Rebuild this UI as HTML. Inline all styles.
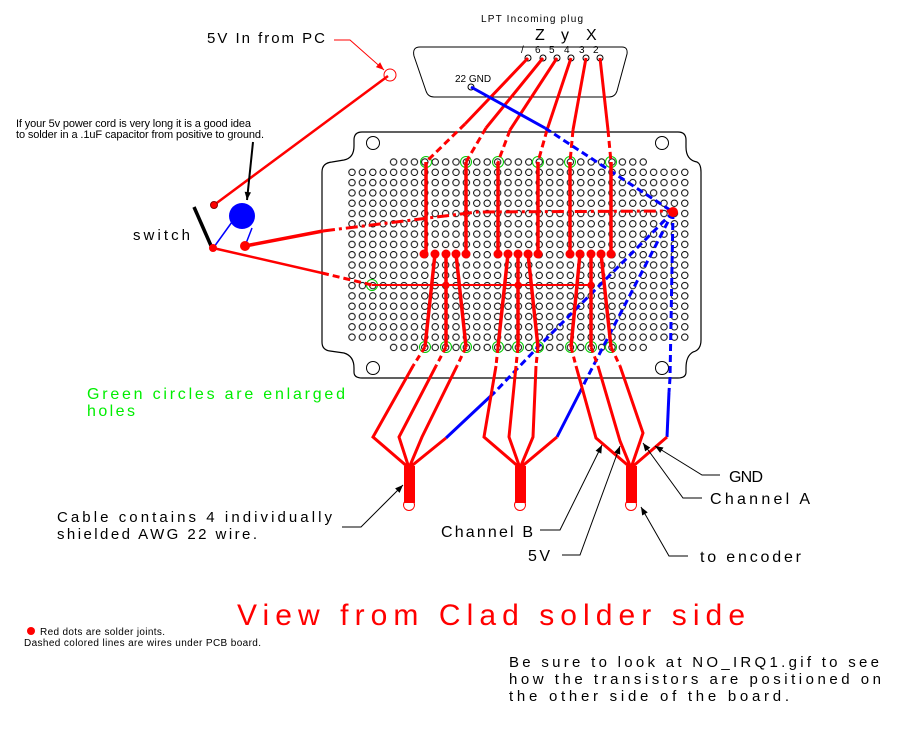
<!DOCTYPE html>
<html><head><meta charset="utf-8"><style>
html,body{margin:0;padding:0;background:#fff}
svg{display:block}
text{font-family:"Liberation Sans",sans-serif}
</style></head><body>
<svg width="914" height="736" viewBox="0 0 914 736" xmlns="http://www.w3.org/2000/svg">
<defs>
<pattern id="h" patternUnits="userSpaceOnUse" x="346.8" y="156.85" width="10.4" height="10.3">
<circle cx="5.2" cy="5.15" r="3.2" fill="none" stroke="#000" stroke-width="1"/>
</pattern>
<marker id="ab" viewBox="0 0 10 10" refX="10" refY="5" markerWidth="14" markerHeight="8" orient="auto" markerUnits="userSpaceOnUse"><path d="M0,1 L10,5 L0,9 z" fill="#000"/></marker>
<marker id="ar" viewBox="0 0 10 10" refX="10" refY="5" markerWidth="14" markerHeight="8" orient="auto" markerUnits="userSpaceOnUse"><path d="M0,1 L10,5 L0,9 z" fill="#f00"/></marker>
</defs>

<!-- board outline -->
<path d="M362 132 L678 132 Q686 132 686 140 L686 147 Q686 160 697 162 Q701 164 701 172 L701 340 Q701 350 693 352 Q686 356 686 368 L686 372 Q686 378 678 378 L362 378 Q354 378 354 372 L354 368 Q354 356 344 353 L330 351 Q322 350 322 342 L322 172 Q322 163 332 162 L344 160 Q354 158 354 146 L354 140 Q354 132 362 132 Z" fill="none" stroke="#000" stroke-width="1.2"/>
<circle cx="373" cy="143" r="6.5" fill="none" stroke="#000"/>
<circle cx="662" cy="143" r="6.5" fill="none" stroke="#000"/>
<circle cx="373" cy="368" r="6.5" fill="none" stroke="#000"/>
<circle cx="662" cy="368" r="6.5" fill="none" stroke="#000"/>

<!-- holes -->
<rect x="388.4" y="156.85" width="260" height="10.3" fill="url(#h)"/>
<rect x="346.8" y="167.15" width="343.2" height="175.1" fill="url(#h)"/>
<rect x="388.4" y="342.25" width="260" height="10.3" fill="url(#h)"/>

<!-- green enlarged holes -->
<g fill="none" stroke="#0c0" stroke-width="1">
<circle cx="426" cy="162" r="5.5"/><circle cx="466" cy="162" r="5.5"/><circle cx="498" cy="162" r="5.5"/><circle cx="538" cy="162" r="5.5"/><circle cx="570" cy="162" r="5.5"/><circle cx="611" cy="162" r="5.5"/>
<circle cx="425" cy="347" r="5.5"/><circle cx="446" cy="347" r="5.5"/><circle cx="466" cy="347" r="5.5"/><circle cx="498" cy="347" r="5.5"/><circle cx="518" cy="347" r="5.5"/><circle cx="538" cy="347" r="5.5"/><circle cx="571" cy="347" r="5.5"/><circle cx="591" cy="347" r="5.5"/><circle cx="611" cy="347" r="5.5"/>
<circle cx="372" cy="285" r="5.5"/>
</g>

<!-- LPT plug -->
<path d="M420 47 L622 47 Q628 47 627 54 L617 91 Q615 97 609 97 L434 97 Q428 97 426 91 L414 56 Q412 47 420 47 Z" fill="none" stroke="#000" stroke-width="1"/>
<g fill="none" stroke="#000"><circle cx="528" cy="58" r="3"/><circle cx="543" cy="58" r="3"/><circle cx="557" cy="58" r="3"/><circle cx="571" cy="58" r="3"/><circle cx="586" cy="58" r="3"/><circle cx="600" cy="58" r="3"/><circle cx="471" cy="87" r="3"/></g>
<g font-size="10" fill="#000"><text x="535" y="53">6</text><text x="549" y="53">5</text><text x="564" y="53">4</text><text x="579" y="53">3</text><text x="593" y="53">2</text><text x="521" y="53">/</text></g>
<text x="455" y="82" font-size="10">22 GND</text>
<text x="481" y="22" font-size="10" textLength="102">LPT Incoming plug</text>
<g font-size="16"><text x="535" y="40">Z</text><text x="561" y="40">y</text><text x="586" y="40">X</text></g>

<!-- wires from plug -->
<g stroke="#f00" stroke-width="3" fill="none">
<path d="M528 58 L465 124"/><path d="M465 124 L426 162" stroke-dasharray="7,4"/>
<path d="M543 58 L486 128"/><path d="M486 128 L466 162" stroke-dasharray="7,4"/>
<path d="M557 58 L510 130"/><path d="M510 130 L498 162" stroke-dasharray="7,4"/>
<path d="M571 58 L547 130"/><path d="M547 130 L538 162" stroke-dasharray="7,4"/>
<path d="M586 58 L573 130"/><path d="M573 130 L570 162" stroke-dasharray="7,4"/>
<path d="M600 58 L608 130"/><path d="M608 130 L611 162" stroke-dasharray="7,4"/>
</g>
<g stroke="#00f" stroke-width="3" fill="none">
<path d="M471 87 L545 128"/><path d="M545 128 L673 212" stroke-dasharray="7,4"/>
<path d="M673 212 L538 347 L495 392" stroke-dasharray="7,4"/><path d="M495 392 L446 438"/>
<path d="M673 212 L587 378 L580 392" stroke-dasharray="7,4"/><path d="M580 392 L557 437"/>
<path d="M673 212 L670 378 L669 392" stroke-dasharray="7,4"/><path d="M669 392 L667 437"/>
</g>

<!-- board wiring -->
<g stroke="#f00" stroke-width="3.5" fill="none">
<path d="M426 162 V254 M466 162 V254 M498 162 V254 M538 162 V254 M570 162 V254 M611 162 V254"/>
<path d="M435 254 L425 347 M446 254 V347 M456 254 L466 347"/>
<path d="M508 254 L498 347 M518 254 V347 M528 254 L538 347"/>
<path d="M580 254 L571 347 M591 254 V347 M601 254 L611 347"/>
</g>
<path d="M372 285 H591" stroke="#f00" stroke-width="2"/>
<g fill="#f00">
<circle cx="424" cy="254" r="4.5"/><circle cx="435" cy="254" r="4.5"/><circle cx="446" cy="254" r="4.5"/><circle cx="456" cy="254" r="4.5"/><circle cx="466" cy="254" r="4.5"/>
<circle cx="498" cy="254" r="4.5"/><circle cx="508" cy="254" r="4.5"/><circle cx="518" cy="254" r="4.5"/><circle cx="528" cy="254" r="4.5"/><circle cx="538" cy="254" r="4.5"/>
<circle cx="570" cy="254" r="4.5"/><circle cx="580" cy="254" r="4.5"/><circle cx="591" cy="254" r="4.5"/><circle cx="601" cy="254" r="4.5"/><circle cx="611" cy="254" r="4.5"/>
<circle cx="446" cy="285" r="3.5"/><circle cx="518" cy="285" r="3.5"/><circle cx="591" cy="285" r="3.5"/>
<circle cx="673" cy="212" r="5"/>
</g>
<!-- dash-dot line -->
<path d="M323 231 L477 212 L673 211" stroke="#f00" stroke-width="3" fill="none" stroke-dasharray="12,4,3,4"/>
<path d="M245 246 L323 231" stroke="#f00" stroke-width="3.5"/>
<path d="M213 248 L322 273" stroke="#f00" stroke-width="2.5"/>
<path d="M322 273 L372 285" stroke="#f00" stroke-width="3" stroke-dasharray="7,4"/>

<!-- lower wires to cables -->
<g stroke="#f00" stroke-width="3" fill="none">
<path d="M425 347 L413 366 M446 347 L436 366 M466 347 L457 366" stroke-dasharray="6,4"/>
<path d="M498 347 L496 366 M518 347 L516 366 M538 347 L536 366" stroke-dasharray="6,4"/>
<path d="M571 347 L576 366 M591 347 L598 366 M611 347 L620 366" stroke-dasharray="6,4"/>
<path d="M413 366 L373 437 L409 468 M436 366 L399 437 L409 468 M457 366 L422 437 L409 468 M446 438 L409 468"/>
<path d="M496 366 L484 437 L520 468 M516 366 L509 437 L520 468 M536 366 L533 437 L520 468 M557 437 L520 468"/>
<path d="M576 366 L596 438 L631 468 M598 366 L620 441 L631 468 M620 366 L643 433 L631 468 M667 437 L631 468"/>
</g>
<g fill="#f00"><rect x="404" y="466" width="11" height="37"/><rect x="515" y="466" width="11" height="37"/><rect x="626" y="466" width="11" height="37"/></g>
<g fill="none" stroke="#f00" stroke-width="1"><circle cx="409" cy="505" r="5.5"/><circle cx="520" cy="505" r="5.5"/><circle cx="631" cy="505" r="5.5"/></g>

<!-- switch / cap -->
<path d="M194 207 L212 248" stroke="#000" stroke-width="3.5"/>
<path d="M214 205 L388 76" stroke="#f00" stroke-width="2.5"/>
<circle cx="390" cy="75" r="6" fill="none" stroke="#f00"/>
<path d="M334 40 H350 L384 70" stroke="#f00" stroke-width="1" fill="none" marker-end="url(#ar)"/>
<circle cx="214" cy="205" r="3.5" fill="#f00" stroke="#800"/>
<circle cx="242" cy="216" r="13" fill="#00f"/>
<path d="M214 247 L232 222 M245 246 L252 228" stroke="#00f" stroke-width="1.5"/>
<circle cx="213" cy="248" r="4" fill="#f00"/>
<circle cx="245" cy="246" r="5" fill="#f00"/>
<path d="M253 142 L247 200" stroke="#000" stroke-width="2" marker-end="url(#ab)"/>

<!-- leaders -->
<g stroke="#000" stroke-width="1" fill="none">
<path d="M342 527 H361 L403 485" marker-end="url(#ab)"/>
<path d="M720 475 H702 L655 446" marker-end="url(#ab)"/>
<path d="M702 498 H683 L643 443" marker-end="url(#ab)"/>
<path d="M540 530 H560 L602 445" marker-end="url(#ab)"/>
<path d="M562 555 H580 L620 446" marker-end="url(#ab)"/>
<path d="M688 556 H669 L641 507" marker-end="url(#ab)"/>
</g>

<!-- labels -->
<g fill="#000">
<text x="207" y="43" font-size="15" textLength="118">5V In from PC</text>
<text x="16" y="127" font-size="11" textLength="235">If your 5v power cord is very long it is a good idea</text>
<text x="16" y="138" font-size="11" textLength="248">to solder in a .1uF capacitor from positive to ground.</text>
<text x="133" y="240" font-size="15" textLength="57">switch</text>
<text x="57" y="522" font-size="15" textLength="275">Cable contains 4 individually</text>
<text x="57" y="539" font-size="15" textLength="200">shielded AWG 22 wire.</text>
<text x="729" y="482" font-size="16" textLength="34">GND</text>
<text x="710" y="504" font-size="16" textLength="100">Channel A</text>
<text x="441" y="537" font-size="16" textLength="92">Channel B</text>
<text x="528" y="561" font-size="16" textLength="22">5V</text>
<text x="700" y="562" font-size="16" textLength="101">to encoder</text>
<text x="40" y="635" font-size="10" textLength="125">Red dots are solder joints.</text>
<text x="24" y="646" font-size="10" textLength="237">Dashed colored lines are wires under PCB board.</text>
<text x="509" y="667" font-size="15" textLength="370">Be sure to look at NO_IRQ1.gif to see</text>
<text x="509" y="684" font-size="15" textLength="372">how the transistors are positioned on</text>
<text x="509" y="701" font-size="15" textLength="280">the other side of the board.</text>
</g>
<circle cx="31" cy="631" r="4" fill="#f00"/>
<text x="87" y="399" font-size="16" fill="#0e0" textLength="258">Green circles are enlarged</text>
<text x="87" y="416" font-size="16" fill="#0e0" textLength="48">holes</text>
<text x="237" y="625" font-size="30" fill="#f00" textLength="508">View from Clad solder side</text>
</svg>
</body></html>
